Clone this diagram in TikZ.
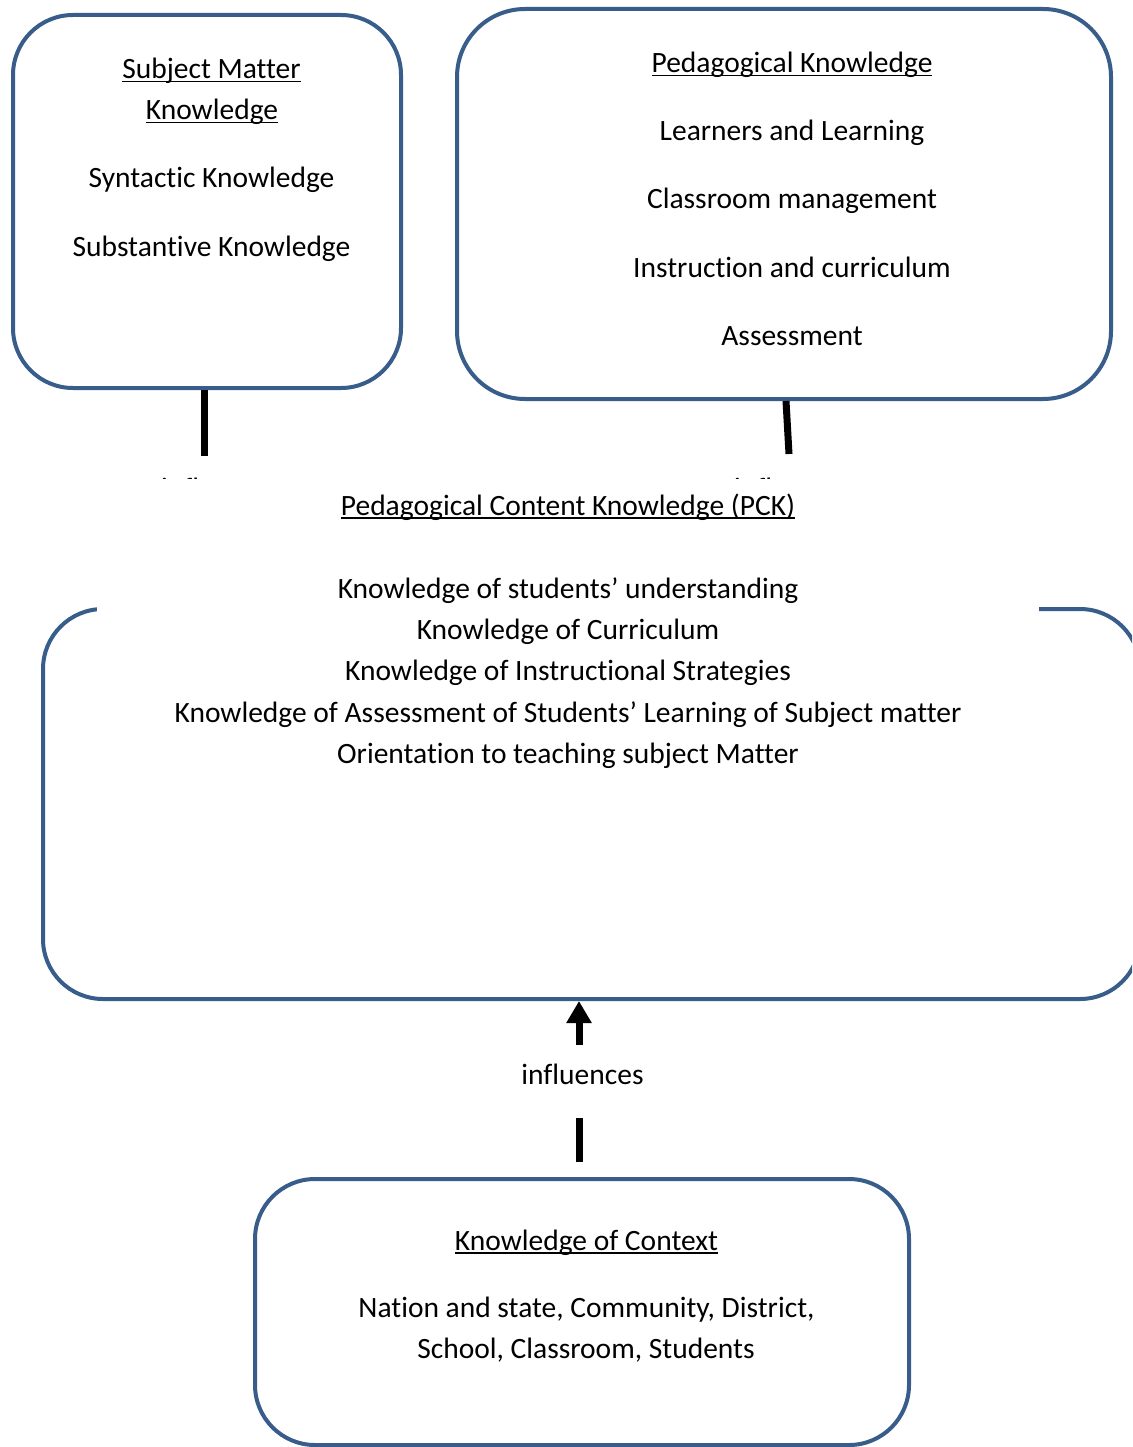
\documentclass[tikz,border=0pt]{standalone}
\usepackage{fontspec}
\setmainfont{Carlito}[Ligatures=NoCommon]
\usetikzlibrary{arrows.meta}
\definecolor{boxblue}{HTML}{385D8A}
\newcommand\myul[1]{\setbox0\hbox{#1}\rlap{\rule[-3.5pt]{\wd0}{1.8pt}}\box0}
\begin{document}
\begin{tikzpicture}[x=1pt,y=-1pt,
  kbox/.style={draw=boxblue, line width=4pt, rectangle, rounded corners=60pt, inner sep=0pt},
  txt/.style={anchor=base, inner sep=0pt, font=\fontsize{29.5}{34}\selectfont},
  link/.style={line width=7pt, draw=black}]
\useasboundingbox (0,0) rectangle (1132,1447);
\clip (0,0) rectangle (1132,1447);
\fill[white] (0,0) rectangle (1132,1447);

% boxes
\node[kbox, minimum width=388pt, minimum height=373pt] (smk) at (207,201.5) {};
\node[kbox, rounded corners=68pt, minimum width=654pt, minimum height=390pt] (pk) at (784,204) {};
\node[kbox, minimum width=1097pt, minimum height=390pt] (pck) at (591.5,804) {};
\node[kbox, minimum width=654pt, minimum height=266pt] (koc) at (582,1312) {};

% connectors from the upper boxes
\coordinate (lend) at (204,456);
\coordinate (rend) at (789,454);
\draw[link] (smk.south -| lend) -- (lend);
\draw[link] ([xshift=2pt]pk.south) -- (rend);

% partly hidden labels
\node[txt, anchor=base west] (infl) at (161,498) {influences};
\node[txt, anchor=base west] (infr) at (734,498) {influences};

% white text frame over the PCK top
\node[fill=white, inner sep=0pt, minimum width=942pt, minimum height=134pt] (pcktext) at (568,546) {};

% texts
\node[txt] (smk1) at (211.5,79) {\myul{Subject Matter}};
\node[txt] (smk2) at (212,120) {\myul{Knowledge}};
\node[txt] (smk3) at (211.5,188) {Syntactic Knowledge};
\node[txt] (smk4) at (211.5,256) {Substantive Knowledge};

\node[txt] (pk1) at (792,73) {\myul{Pedagogical Knowledge}};
\node[txt] (pk2) at (792,141) {Learners and Learning};
\node[txt] (pk3) at (792,209) {Classroom management};
\node[txt] (pk4) at (792,277) {Instruction and curriculum};
\node[txt] (pk5) at (792,345) {Assessment};

\node[txt] (pck0) at (568,515) {\myul{Pedagogical Content Knowledge (PCK)}};
\node[txt] (pck1) at (568,598) {Knowledge of students’ understanding};
\node[txt] (pck2) at (568,639) {Knowledge of Curriculum};
\node[txt] (pck3) at (568,680) {Knowledge of Instructional Strategies};
\node[txt] (pck4) at (568,722) {Knowledge of Assessment of Students’ Learning of Subject matter};
\node[txt] (pck5) at (568,763) {Orientation to teaching subject Matter};

\node[txt] (infb) at (582.5,1084) {influences};

\node[txt] (koc1) at (586.5,1250) {\myul{Knowledge of Context}};
\node[txt] (koc2) at (586.5,1317) {Nation and state, Community, District,};
\node[txt] (koc3) at (586,1358) {School, Classroom, Students};

% bottom arrow
\coordinate (ashaft) at (579,1045);
\coordinate (bseg1) at (579,1118);
\coordinate (bseg2) at (579,1162);
\draw[link, -{Triangle[width=24pt,length=22pt]}] (ashaft) -- (pck.south -| ashaft);
\draw[link] (bseg2) -- (bseg1);
\end{tikzpicture}
\end{document}
